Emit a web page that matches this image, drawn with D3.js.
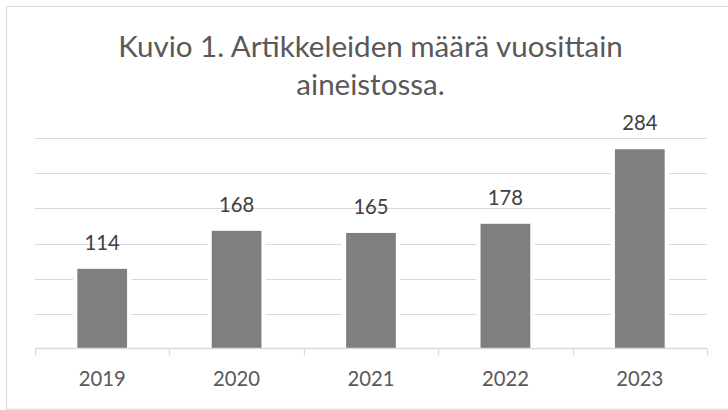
<!DOCTYPE html>
<html>
<head>
<meta charset="utf-8">
<script src="https://cdn.jsdelivr.net/npm/d3@7"></script>
<style>
  html, body { margin: 0; padding: 0; background: #ffffff; }
  svg { display: block; }
  text { font-family: Lato, "Open Sans", "Liberation Sans", sans-serif; }
</style>
</head>
<body>
<svg id="chart" width="728" height="410"></svg>
<script>
// ---- data ----
const titleLines = ["Kuvio 1. Artikkeleiden määrä vuosittain", "aineistossa."];
const years = ["2019", "2020", "2021", "2022", "2023"];
const counts = [114, 168, 165, 178, 284];
const yTicks = [0, 50, 100, 150, 200, 250, 300];

// ---- layout ----
const W = 728, H = 410;
const plot = { left: 35, right: 707, top: 138, bottom: 349 };
const svg = d3.select("#chart");

svg.append("rect").attr("x", 0).attr("y", 0).attr("width", W).attr("height", H).attr("fill", "#fff");
// chart border (extends beyond the right edge)
svg.append("rect")
  .attr("x", 6.5).attr("y", 6.5).attr("width", 760).attr("height", 402.8)
  .attr("fill", "none").attr("stroke", "#d9d9d9").attr("stroke-width", 1);

const x = d3.scaleBand().domain(years).range([plot.left, plot.right])
  .paddingInner(0.63).paddingOuter(0.315);
const y = d3.scaleLinear().domain([0, 300]).range([plot.bottom, plot.top]);

// helper to fit font size to a target width
function fitSize(str, target, base) {
  const t = svg.append("text").attr("font-size", base).text(str);
  const w = t.node().getComputedTextLength();
  t.remove();
  return base * target / w;
}

// title
const titleSize = fitSize(titleLines[0], 505, 28);
const title = svg.append("g").attr("fill", "#595959");
title.selectAll("text").data(titleLines).enter().append("text")
  .attr("x", 370.5)
  .attr("y", (d, i) => 56.7 + i * 38.3)
  .attr("text-anchor", "middle")
  .attr("font-size", titleSize)
  .text(d => d);

// gridlines
svg.append("g").selectAll("line").data(yTicks.slice(1)).enter().append("line")
  .attr("x1", plot.left).attr("x2", plot.right)
  .attr("y1", d => Math.round(y(d)) + 0.5).attr("y2", d => Math.round(y(d)) + 0.5)
  .attr("stroke", "#d9d9d9").attr("stroke-width", 1);

// bars with white gap around
const barG = svg.append("g");
barG.selectAll("rect.gap").data(counts).enter().append("rect")
  .attr("class", "gap")
  .attr("x", (d, i) => x(years[i]) - 4.3)
  .attr("width", x.bandwidth() + 8.6)
  .attr("y", d => y(d) - 1)
  .attr("height", d => y(0) - y(d) + 1)
  .attr("fill", "#ffffff");
barG.selectAll("rect.bar").data(counts).enter().append("rect")
  .attr("class", "bar")
  .attr("x", (d, i) => x(years[i]))
  .attr("width", x.bandwidth())
  .attr("y", d => y(d))
  .attr("height", d => y(0) - y(d))
  .attr("fill", "#7f7f7f");

// x axis
const xAxis = d3.axisBottom(x).tickSize(0).tickPadding(0).tickFormat("");
const axG = svg.append("g").attr("transform", `translate(0,${Math.round(y(0)) - 0.5})`).call(xAxis);
axG.select(".domain").remove();
axG.append("line").attr("x1", plot.left).attr("x2", plot.right).attr("y1", 0).attr("y2", 0)
  .attr("stroke", "#d9d9d9").attr("stroke-width", 1.5);
const boundaries = years.map(d => x(d) - x.step() * x.paddingInner() / 2).concat([plot.right]);
boundaries[0] = plot.left;
axG.selectAll("line.tick-b").data(boundaries).enter().append("line")
  .attr("class", "tick-b")
  .attr("x1", d => Math.round(d) + 0.5).attr("x2", d => Math.round(d) + 0.5)
  .attr("y1", 0).attr("y2", 7)
  .attr("stroke", "#d9d9d9").attr("stroke-width", 1.2);

const labelSize = fitSize("2019", 47, 20);
svg.append("g").selectAll("text").data(years).enter().append("text")
  .attr("x", d => x(d) + x.bandwidth() / 2)
  .attr("y", 385.7)
  .attr("text-anchor", "middle")
  .attr("font-size", labelSize)
  .attr("fill", "#595959")
  .text(d => d);

// data labels
svg.append("g").selectAll("text").data(counts).enter().append("text")
  .attr("x", (d, i) => x(years[i]) + x.bandwidth() / 2)
  .attr("y", d => y(d) - 19)
  .attr("text-anchor", "middle")
  .attr("font-size", labelSize)
  .attr("fill", "#404040")
  .text(d => d);
</script>
</body>
</html>
